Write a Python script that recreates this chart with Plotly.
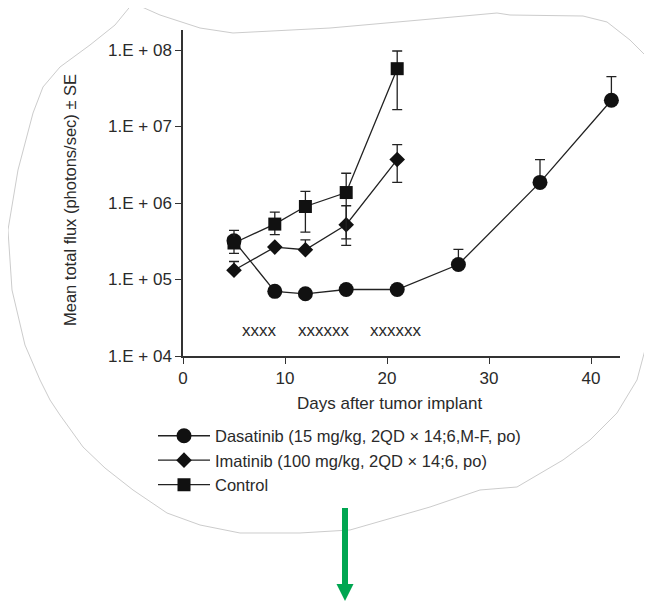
import plotly.graph_objects as go

# ---- data ----
das_days = [5, 9, 12, 16, 21, 27, 35, 42]
das_flux = [3.2e5, 7.0e4, 6.5e4, 7.4e4, 7.4e4, 1.57e5, 1.86e6, 2.2e7]
das_se_up = [0, 0, 0, 0, 0, 0.9e5, 1.84e6, 2.3e7]
das_se_dn = [0, 0, 0, 0, 0, 0, 0, 0]

ima_days = [5, 9, 12, 16, 21]
ima_flux = [1.32e5, 2.65e5, 2.45e5, 5.2e5, 3.7e6]
ima_se_up = [0.4e5, 0, 0.85e5, 4.0e5, 2.1e6]
ima_se_dn = [0, 0, 0, 1.8e5, 1.84e6]

ctl_days = [5, 9, 12, 16, 21]
ctl_flux = [3.0e5, 5.3e5, 9.0e5, 1.37e6, 5.7e7]
ctl_se_up = [1.4e5, 2.3e5, 5.2e5, 1.08e6, 4.0e7]
ctl_se_dn = [0.8e5, 1.45e5, 4.85e5, 1.09e6, 4.04e7]

names = ["Dasatinib (15 mg/kg, 2QD × 14;6,M-F, po)",
         "Imatinib (100 mg/kg, 2QD × 14;6, po)",
         "Control"]

ytick_vals = [1e4, 1e5, 1e6, 1e7, 1e8]
ytick_text = ["1.E + 04", "1.E + 05", "1.E + 06", "1.E + 07", "1.E + 08"]
xtick_vals = [0, 10, 20, 30, 40]

dose_labels = ["xxxx", "xxxxxx", "xxxxxx"]
dose_x = [7.5, 13.85, 20.85]
dose_logy = 4.335

FONT = "Liberation Sans, Arial, Helvetica, sans-serif"
TXT = "#2a2a2a"
INK = "#111111"

# ---- geometry: page pixels (the page body has an 8px margin) ----
OFF = 8
PAGE_W, PAGE_H = 652, 603
P_LEFT, P_RIGHT, P_TOP, P_BOT = 183, 620, 30, 356
W, H = PAGE_W - OFF, PAGE_H - OFF
L, R, T, B = P_LEFT - OFF, PAGE_W - P_RIGHT, P_TOP - OFF, PAGE_H - P_BOT
PW, PH = P_RIGHT - P_LEFT, P_BOT - P_TOP


def px(x):
    return (x - P_LEFT) / PW


def py(y):
    return (P_BOT - y) / PH


fig = go.Figure()

specs = [
    (das_days, das_flux, das_se_up, das_se_dn, "circle", 15, names[0]),
    (ima_days, ima_flux, ima_se_up, ima_se_dn, "diamond", 12, names[1]),
    (ctl_days, ctl_flux, ctl_se_up, ctl_se_dn, "square", 13, names[2]),
]
for i, (xs, ys, up, dn, sym, sz, nm) in enumerate(specs):
    fig.add_trace(go.Scatter(
        x=xs, y=ys, name=nm, mode="lines+markers",
        line=dict(color="#222222", width=1.3),
        marker=dict(symbol=sym, size=sz, color=INK),
        error_y=dict(type="data", symmetric=False, array=up, arrayminus=dn,
                     color="#222222", thickness=1.3, width=5),
    ))

for lab, xx in zip(dose_labels, dose_x):
    fig.add_annotation(x=xx, y=dose_logy, xref="x", yref="y", text=lab,
                       showarrow=False, xanchor="center", yanchor="middle",
                       font=dict(size=17, color=TXT, family=FONT))

# axis titles
fig.add_annotation(x=px(389), y=py(403), xref="paper", yref="paper",
                   text="Days after tumor implant", showarrow=False,
                   xanchor="center", yanchor="middle",
                   font=dict(size=17, color=TXT, family=FONT))
fig.add_annotation(x=px(70), y=py(200), xref="paper", yref="paper",
                   text="Mean total flux (photons/sec) ± SE", showarrow=False,
                   textangle=-90, xanchor="center", yanchor="middle",
                   font=dict(size=16.5, color=TXT, family=FONT))

# torn-paper outline
outline_pts = [
    (133, 3), (160, 15), (200, 28), (233, 33), (330, 28), (420, 20), (497, 13),
    (510, 15), (583, 16), (607, 22), (630, 40), (652, 62), (650, 100),
    (648, 160), (650, 230), (650, 300), (645, 350), (637, 380), (617, 413),
    (590, 440), (563, 460), (517, 487), (480, 490), (430, 507), (350, 530),
    (300, 533), (240, 533), (200, 525), (167, 513), (133, 490), (105, 468),
    (83, 447), (60, 415), (50, 400), (40, 380), (25, 345), (12, 290),
    (8, 230), (18, 170), (33, 113), (43, 87), (60, 67), (90, 45), (115, 25),
]
path = "M " + " L ".join(f"{px(x):.4f},{py(y):.4f}" for x, y in outline_pts) + " Z"
fig.add_shape(type="path", path=path, xref="paper", yref="paper",
              line=dict(color="#cccccc", width=1), fillcolor="rgba(0,0,0,0)",
              layer="below")

# green arrow
GREEN = "#00a651"
fig.add_shape(type="line", xref="paper", yref="paper",
              x0=px(345), x1=px(345), y0=py(508), y1=py(586),
              line=dict(color=GREEN, width=6))
tri = f"M {px(336.5):.4f},{py(584):.4f} L {px(353.5):.4f},{py(584):.4f} L {px(345):.4f},{py(601):.4f} Z"
fig.add_shape(type="path", path=tri, xref="paper", yref="paper",
              line=dict(color=GREEN, width=0), fillcolor=GREEN)

fig.update_layout(
    width=W, height=H,
    margin=dict(l=L, r=R, t=T, b=B),
    paper_bgcolor="white", plot_bgcolor="white",
    font=dict(family=FONT, size=16, color=TXT),
    showlegend=True,
    legend=dict(x=px(153), y=py(418.5), xanchor="left", yanchor="top",
                bgcolor="rgba(0,0,0,0)", itemwidth=52,
                font=dict(size=16.5, color=TXT, family=FONT)),
    xaxis=dict(range=[0, PW / 10.2], tickvals=xtick_vals, showgrid=False,
               zeroline=False, showline=True, linecolor="#333333", linewidth=1.5,
               ticks="outside", ticklen=6, tickwidth=1.3, tickcolor="#333333",
               tickfont=dict(size=17, color=TXT, family=FONT)),
    yaxis=dict(type="log", range=[4, 4 + PH / 76.5], tickvals=ytick_vals,
               ticktext=ytick_text, showgrid=False, zeroline=False,
               showline=True, linecolor="#333333", linewidth=1.5,
               ticks="outside", ticklen=6, tickwidth=1.3, tickcolor="#333333",
               tickfont=dict(size=17, color=TXT, family=FONT)),
)

fig.write_html("out.html")
